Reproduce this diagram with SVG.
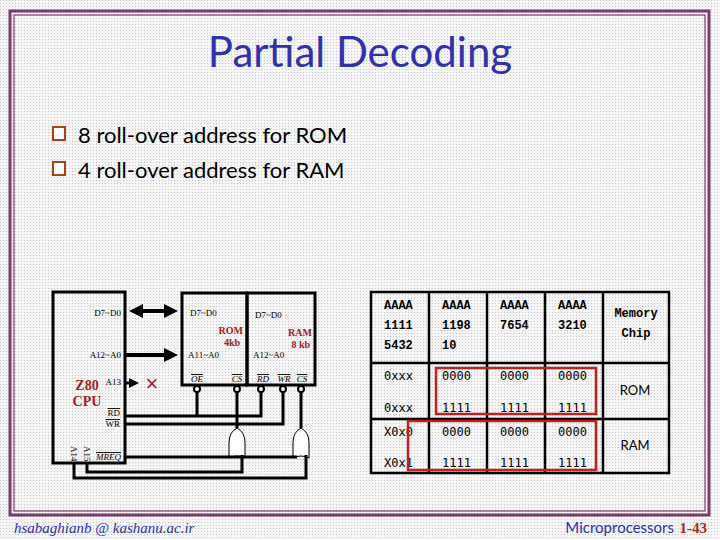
<svg xmlns="http://www.w3.org/2000/svg" width="720" height="540" viewBox="0 0 720 540">
<defs>
<pattern id="dots" width="3" height="3" patternUnits="userSpaceOnUse"><rect width="3" height="3" fill="#f6f6f6"/><rect width="1" height="1" fill="#c8c8c8"/></pattern>
<marker id="ah" markerWidth="3.5" markerHeight="3.5" refX="2.5" refY="1.75" orient="auto-start-reverse" markerUnits="strokeWidth"><path d="M0,0 L3.5,1.75 L0,3.5 z" fill="#000"/></marker>
</defs>
<style>
.t{font-family:"Liberation Serif",serif;font-size:9px;fill:#000}
.red{font-family:"Liberation Serif",serif;font-weight:bold;fill:#a02020}
.box{fill:none;stroke:#000;stroke-width:3}
.w{fill:none;stroke:#000;stroke-width:3}
.hd{font-family:"Liberation Mono",monospace;font-weight:bold;font-size:12px}
.bd{font-family:"DejaVu Sans Mono",monospace;font-size:12px}
.pin{fill:#fff;stroke:#000;stroke-width:2}
</style>
<rect width="720" height="540" fill="url(#dots)"/>
<rect x="10" y="11" width="699" height="504" fill="none" stroke="#7a3a6a" stroke-width="3"/>
<rect x="14" y="15" width="691" height="496" fill="none" stroke="#7a3a6a" stroke-width="1.2"/>
<text x="360" y="67" text-anchor="middle" font-family="Lato,sans-serif" font-size="42" fill="#3030b0">Partial Decoding</text>
<rect x="53" y="127" width="12" height="13" fill="#fff" stroke="#b04010" stroke-width="2"/>
<rect x="53" y="162" width="12" height="13" fill="#fff" stroke="#b04010" stroke-width="2"/>
<text x="78" y="143" font-family="Lato,sans-serif" font-size="22" fill="#000">8 roll-over address for ROM</text>
<text x="78" y="178" font-family="Lato,sans-serif" font-size="22" fill="#000">4 roll-over address for RAM</text>

<g id="cpu"><rect x="53" y="292" width="72" height="171" class="box"/>
<text x="121" y="316" class="t" text-anchor="end">D7~D0</text>
<text x="121" y="358" class="t" text-anchor="end">A12~A0</text>
<text x="121" y="385" class="t" text-anchor="end">A13</text>
<text x="87" y="390" class="red" font-size="14" text-anchor="middle">Z80</text>
<text x="87" y="406" class="red" font-size="14" text-anchor="middle">CPU</text>
<text x="120" y="416" class="t" font-size="8" text-anchor="end" text-decoration="overline">RD</text>
<text x="120" y="427" class="t" font-size="8" text-anchor="end" text-decoration="overline">WR</text>
<text x="121" y="460" class="t" font-size="8" text-anchor="end" font-style="italic" text-decoration="overline">MREQ</text>
<text transform="translate(71,446) rotate(90)" class="t" font-size="8">A14</text>
<text transform="translate(84,446) rotate(90)" class="t" font-size="8">A15</text></g>
<g id="rom"><rect x="182" y="293" width="65" height="92" class="box"/>
<text x="190" y="316" class="t">D7~D0</text>
<text x="243" y="334" class="red" font-size="10" text-anchor="end">ROM</text>
<text x="240" y="346" class="red" font-size="10" text-anchor="end">4kb</text>
<text x="188" y="358" class="t">A11~A0</text>
<text x="197" y="382" class="t" font-style="italic" text-anchor="middle" text-decoration="overline">OE</text>
<text x="237" y="382" class="t" font-style="italic" text-anchor="middle" text-decoration="overline">CS</text></g>
<g id="ram"><rect x="247" y="293" width="68" height="92" class="box"/>
<text x="255" y="318" class="t">D7~D0</text>
<text x="312" y="336" class="red" font-size="10" text-anchor="end">RAM</text>
<text x="310" y="348" class="red" font-size="10" text-anchor="end">8 kb</text>
<text x="253" y="358" class="t">A12~A0</text>
<text x="263" y="382" class="t" font-style="italic" text-anchor="middle" text-decoration="overline">RD</text>
<text x="284" y="382" class="t" font-style="italic" text-anchor="middle" text-decoration="overline">WR</text>
<text x="302" y="382" class="t" font-style="italic" text-anchor="middle" text-decoration="overline">CS</text></g>
<g id="gate1"><path d="M229,458 L229,443 Q229,432 237,428 Q245,432 245,443 L245,458 Q237,454 229,458 z" fill="#fff" stroke="#000" stroke-width="1"/></g>
<g id="gate2"><path d="M293,458 L293,443 Q293,432 301,428 Q309,432 309,443 L309,458 Q301,454 293,458 z" fill="#fff" stroke="#000" stroke-width="1"/></g>
<g id="connectors">
<line x1="133" y1="311" x2="174" y2="311" stroke="#000" stroke-width="4" marker-start="url(#ah)" marker-end="url(#ah)"/>
<line x1="125" y1="355" x2="174" y2="355" stroke="#000" stroke-width="4" marker-end="url(#ah)"/>
<line x1="125" y1="383" x2="136" y2="383" stroke="#000" stroke-width="3" marker-end="url(#ah)"/>
<text x="152" y="391" font-family="Liberation Sans,sans-serif" font-size="22" fill="#a02020" text-anchor="middle">×</text>
<path d="M125,416 H261 V389 M197,416 V389" class="w"/>
<path d="M125,424 H283 V389" class="w"/>
<path d="M237,389 V428 M301,389 V428" class="w"/>
<path d="M125,457 H297" class="w"/>
<path d="M87,463 V472 H242 V455" class="w"/>
<path d="M74,463 V478 H306 V455" class="w"/>
<circle cx="197" cy="389" r="3" class="pin"/><circle cx="237" cy="389" r="3" class="pin"/>
<circle cx="261" cy="389" r="3" class="pin"/><circle cx="283" cy="389" r="3" class="pin"/><circle cx="301" cy="389" r="3" class="pin"/>
</g>
<g id="table" stroke="#000" stroke-width="2.5">
<rect x="371" y="292" width="298" height="181" fill="none"/>
<path d="M429,292 V473 M487,292 V473 M545,292 V473 M603,292 V473 M371,363 H669 M371,419 H669" fill="none"/>
</g>
<g id="tabletext">
<g class="hd"><text x="384" y="309">AAAA</text><text x="384" y="329">1111</text><text x="384" y="349">5432</text>
<text x="442" y="309">AAAA</text><text x="442" y="329">1198</text><text x="442" y="349">10</text>
<text x="500" y="309">AAAA</text><text x="500" y="329">7654</text>
<text x="558" y="309">AAAA</text><text x="558" y="329">3210</text>
<text x="636" y="317" text-anchor="middle">Memory</text><text x="636" y="337" text-anchor="middle">Chip</text></g>
<g class="bd"><text x="384" y="380">0xxx</text><text x="384" y="412">0xxx</text><text x="384" y="436">X0x0</text><text x="384" y="467">X0x1</text>
<text x="442" y="380">0000</text><text x="500" y="380">0000</text><text x="558" y="380">0000</text>
<text x="442" y="412">1111</text><text x="500" y="412">1111</text><text x="558" y="412">1111</text>
<text x="442" y="436">0000</text><text x="500" y="436">0000</text><text x="558" y="436">0000</text>
<text x="442" y="467">1111</text><text x="500" y="467">1111</text><text x="558" y="467">1111</text></g>
<text x="635" y="395" text-anchor="middle" font-family="Lato,sans-serif" font-size="13">ROM</text>
<text x="635" y="450" text-anchor="middle" font-family="Lato,sans-serif" font-size="13">RAM</text>
</g>
<rect x="436" y="368" width="160" height="46" fill="none" stroke="#c02020" stroke-width="2.5"/>
<rect x="408" y="421" width="188" height="49" fill="none" stroke="#c02020" stroke-width="2.5"/>
<text x="14" y="533" font-family="Liberation Serif,serif" font-style="italic" font-size="15" fill="#3030a0">hsabaghianb @ kashanu.ac.ir</text>
<text x="674" y="533" text-anchor="end" font-family="Lato,sans-serif" font-size="15" fill="#3030a0">Microprocessors</text>
<text x="707" y="533" text-anchor="end" font-family="Liberation Serif,serif" font-weight="bold" font-size="15" fill="#a03010">1-43</text>
</svg>
